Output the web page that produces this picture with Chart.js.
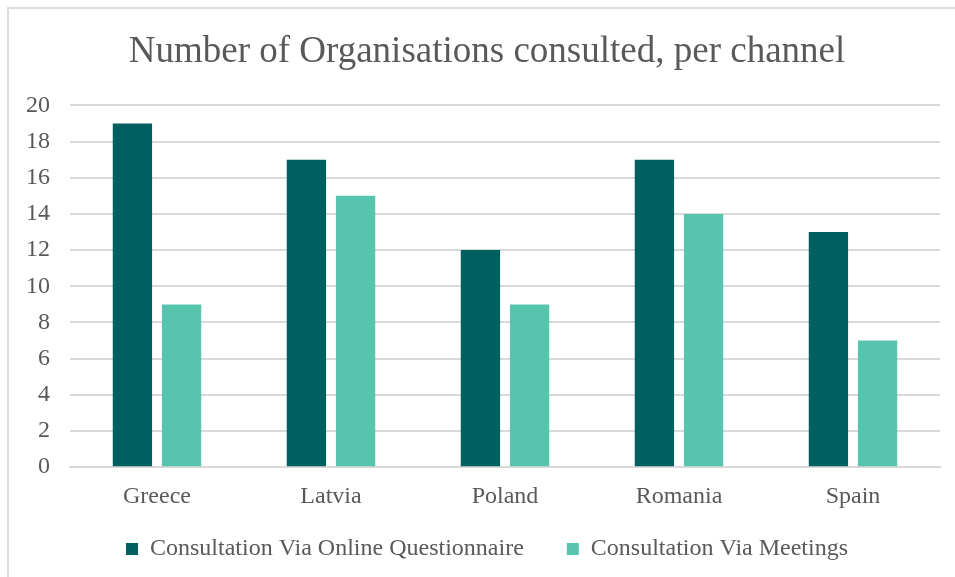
<!DOCTYPE html>
<html>
<head>
<meta charset="utf-8">
<script src="https://cdn.jsdelivr.net/npm/chart.js@4.4.0/dist/chart.umd.min.js"></script>
<style>
  html, body { margin: 0; padding: 0; background: #fff; }
  #wrap { position: relative; width: 955px; height: 577px; }
  #frame { position: absolute; left: 7px; top: 7px; right: -2px; bottom: -2px;
           border-top: 2px solid #dcdcdc; border-left: 2px solid #dcdcdc; }
  canvas { position: absolute; left: 0; top: 0; }
</style>
</head>
<body>
<div id="wrap">
  <div id="frame"></div>
  <canvas id="chart" width="955" height="577"></canvas>
</div>
<script>
// countries and counts per channel
const countries = ['Greece', 'Latvia', 'Poland', 'Romania', 'Spain'];
const onlineQuestionnaire = [19, 17, 12, 17, 13];
const meetings = [9, 15, 9, 14, 7];
const yTicks = [0, 2, 4, 6, 8, 10, 12, 14, 16, 18, 20];

const grey = '#595959';
const serif = '"Liberation Serif", "Times New Roman", serif';

const ctx = document.getElementById('chart').getContext('2d');
new Chart(ctx, {
    type: 'bar',
    data: {
        labels: countries,
        datasets: [{
            label: 'Consultation Via Online Questionnaire',
            data: onlineQuestionnaire,
            backgroundColor: '#006060'
        }, {
            label: 'Consultation Via Meetings',
            data: meetings,
            backgroundColor: '#57c5ae'
        }]
    },
    options: {
        responsive: false,
        animation: false,
        devicePixelRatio: 1,
        categoryPercentage: 0.565,
        barPercentage: 0.8,
        layout: { padding: { left: 19, right: 0, top: 0, bottom: 6 } },
        plugins: {
            title: {
                display: true,
                text: 'Number of Organisations consulted, per channel',
                color: grey,
                font: { family: serif, size: 37, weight: 'normal' },
                padding: { top: 30, bottom: 31 }
            },
            legend: {
                position: 'bottom',
                labels: {
                    color: grey,
                    font: { family: serif, size: 24 },
                    boxWidth: 12,
                    boxHeight: 12,
                    padding: 19,
                    generateLabels: chart => {
                        const items = Chart.defaults.plugins.legend.labels.generateLabels(chart);
                        // extra room after the first entry, as in the original legend
                        items[0].text += '    ';
                        return items;
                    }
                }
            },
            tooltip: { enabled: false }
        },
        scales: {
            x: {
                grid: { display: false },
                border: { color: '#d9d9d9', width: 2 },
                ticks: { color: grey, font: { family: serif, size: 24 }, padding: 7 }
            },
            y: {
                min: 0,
                max: 20,
                afterBuildTicks: scale => { scale.ticks = yTicks.map(v => ({ value: v })); },
                afterFit: scale => { scale.width = 51; },
                grid: { color: '#d9d9d9', lineWidth: 2, drawTicks: false },
                border: { display: false },
                ticks: { color: grey, font: { family: serif, size: 24 }, padding: 20 }
            },
            // empty right margin of the plot area
            spacer: {
                type: 'linear',
                position: 'right',
                min: 0,
                max: 1,
                afterFit: scale => { scale.width = 15; },
                grid: { display: false },
                border: { display: false },
                ticks: { display: false }
            }
        }
    }
});
</script>
</body>
</html>
